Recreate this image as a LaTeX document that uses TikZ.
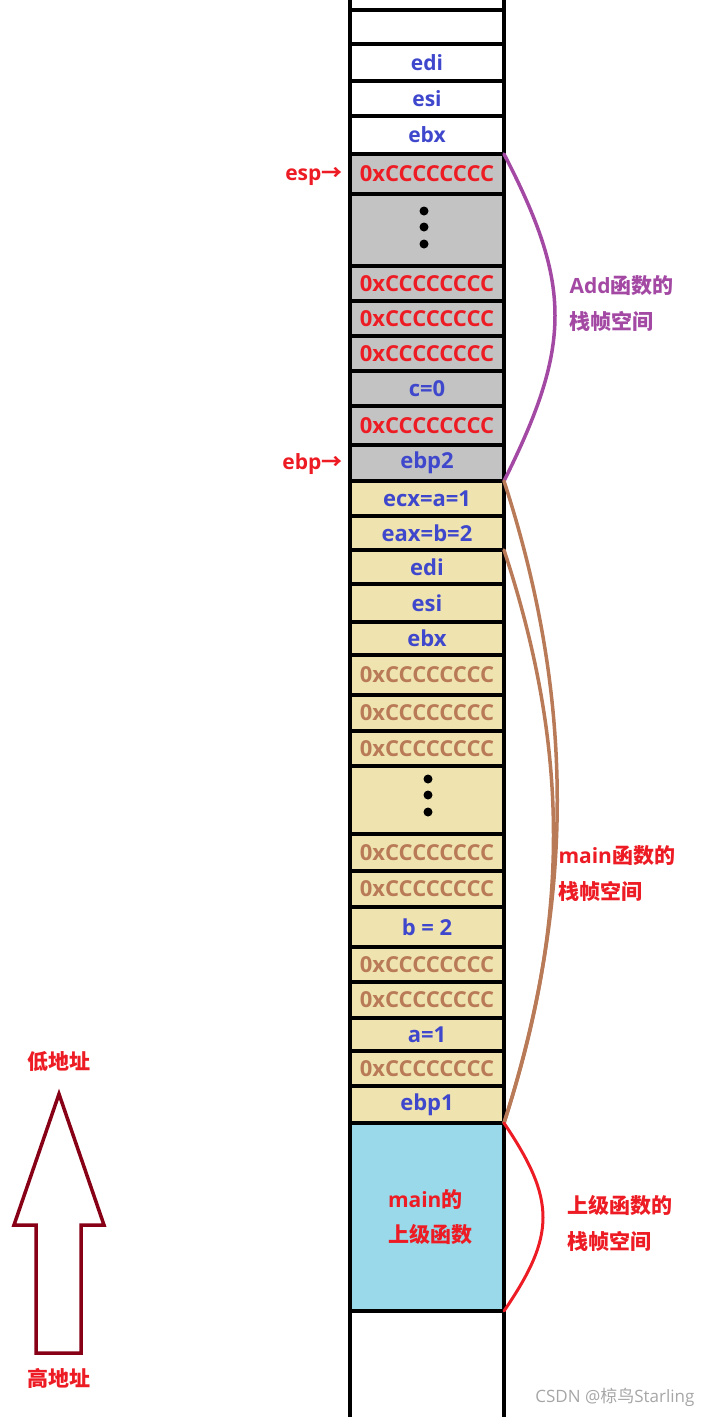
\documentclass[tikz,border=0pt]{standalone}
\usepackage{fontspec}
\setmainfont{Open Sans}
\newfontfamily\cjk{Noto Sans CJK SC}
\usetikzlibrary{positioning}

\definecolor{cellgray}{HTML}{C3C3C3}
\definecolor{celltan}{HTML}{EFE4B0}
\definecolor{cellblue}{HTML}{99D9EA}
\definecolor{txtblue}{HTML}{3F48CC}
\definecolor{txtred}{HTML}{ED1C24}
\definecolor{txtbrown}{HTML}{B97A57}
\definecolor{txtpurple}{HTML}{A349A4}
\definecolor{arrowred}{HTML}{880015}

\begin{document}
\begin{tikzpicture}[
            x=1pt, y=-1pt,
            font=\fontsize{21}{25}\selectfont\bfseries,
            cell/.style={rectangle, draw, line width=4pt, minimum width=154pt, inner sep=0pt, outer sep=0pt},
            white cell/.style={cell, fill=white, text=txtblue},
            gray cell/.style={cell, fill=cellgray, text=txtred, font=\fontsize{22}{25}\selectfont\bfseries},
            tan cell/.style={cell, fill=celltan, text=txtbrown, font=\fontsize{22}{25}\selectfont\bfseries},
            frame/.style={line width=3.5pt, line cap=round},
            side label/.style={anchor=west, align=left, font=\fontsize{21}{36}\selectfont\bfseries}
        ]
            \useasboundingbox (0,0) rectangle (705,1417);

            % Stack cells, top (low address) to bottom
            \node[white cell, minimum height=34pt] (r1) at (427,27) {};
            \node[white cell, minimum height=37pt, below=0pt of r1] (r2) {edi};
            \node[white cell, minimum height=35pt, below=0pt of r2] (r3) {esi};
            \node[white cell, minimum height=38pt, below=0pt of r3] (r4) {ebx};
            \node[gray cell, minimum height=40pt, below=0pt of r4] (r5) {0xCCCCCCCC};
            \node[gray cell, minimum height=72pt, below=0pt of r5] (r6) {};
            \node[gray cell, minimum height=35pt, below=0pt of r6] (r7) {0xCCCCCCCC};
            \node[gray cell, minimum height=35pt, below=0pt of r7] (r8) {0xCCCCCCCC};
            \node[gray cell, minimum height=35pt, below=0pt of r8] (r9) {0xCCCCCCCC};
            \node[gray cell, text=txtblue, minimum height=35pt, below=0pt of r9] (r10) {c=0};
            \node[gray cell, minimum height=39pt, below=0pt of r10] (r11) {0xCCCCCCCC};
            \node[gray cell, text=txtblue, minimum height=36pt, below=0pt of r11] (r12) {ebp2};
            \node[tan cell, text=txtblue, minimum height=35pt, below=0pt of r12] (r13) {ecx=a=1};
            \node[tan cell, text=txtblue, minimum height=34pt, below=0pt of r13] (r14) {eax=b=2};
            \node[tan cell, text=txtblue, minimum height=34pt, below=0pt of r14] (r15) {edi};
            \node[tan cell, text=txtblue, minimum height=38pt, below=0pt of r15] (r16) {esi};
            \node[tan cell, text=txtblue, minimum height=33pt, below=0pt of r16] (r17) {ebx};
            \node[tan cell, minimum height=40pt, below=0pt of r17] (r18) {0xCCCCCCCC};
            \node[tan cell, minimum height=36pt, below=0pt of r18] (r19) {0xCCCCCCCC};
            \node[tan cell, minimum height=35pt, below=0pt of r19] (r20) {0xCCCCCCCC};
            \node[tan cell, minimum height=68pt, below=0pt of r20] (r21) {};
            \node[tan cell, minimum height=37pt, below=0pt of r21] (r22) {0xCCCCCCCC};
            \node[tan cell, minimum height=36pt, below=0pt of r22] (r23) {0xCCCCCCCC};
            \node[tan cell, text=txtblue, minimum height=40pt, below=0pt of r23] (r24) {b = 2};
            \node[tan cell, minimum height=35pt, below=0pt of r24] (r25) {0xCCCCCCCC};
            \node[tan cell, minimum height=36pt, below=0pt of r25] (r26) {0xCCCCCCCC};
            \node[tan cell, text=txtblue, minimum height=33pt, below=0pt of r26] (r27) {a=1};
            \node[tan cell, minimum height=35pt, below=0pt of r27] (r28) {0xCCCCCCCC};
            \node[tan cell, text=txtblue, minimum height=37pt, below=0pt of r28] (r29) {ebp1};
            \node[cell, fill=cellblue, text=txtred, align=left, font=\fontsize{21}{35}\selectfont\bfseries,
                  minimum height=188pt, below=0pt of r29] (r30) {\hspace*{6pt}main{\cjk 的}\\\hspace*{6pt}{\cjk 上级函数}};

            % Column walls
            \draw[line width=4pt] (r1.west |- 0,0) -- (r1.west |- 0,1417);
            \draw[line width=4pt] (r1.east |- 0,0) -- (r1.east |- 0,1417);

            % Dots
            \fill (r6.center) ++(-3,-19) circle (4.5pt);
            \fill (r6.center) ++(-3,-3) circle (4.5pt);
            \fill (r6.center) ++(-3,14) circle (4.5pt);
            \fill (r21.center) ++(1,-21) circle (4.5pt);
            \fill (r21.center) ++(1,-5) circle (4.5pt);
            \fill (r21.center) ++(1,12) circle (4.5pt);

            % Pointers
            \node[anchor=east, text=txtred] (esp) at (346,176) {esp{\cjk →}};
            \node[anchor=east, text=txtred] (ebp) at (346,464) {ebp{\cjk →}};

            % Frame braces
            \draw[frame, txtpurple] (r5.north east) .. controls (572,285) and (572,345) .. (r12.south east);
            \draw[frame, txtbrown] (r13.north east) .. controls (575,700) and (575,900) .. (r29.south east);
            \draw[frame, txtbrown] (r15.north east) .. controls (570,750) and (570,920) .. (r29.south east);
            \draw[frame, txtred, line width=3pt] (r30.north east) .. controls (556,1200) and (556,1235) .. (r30.south east);

            % Frame labels
            \node[side label, text=txtpurple] (addlbl) at (566,304) {Add{\cjk 函数的}\\{\cjk 栈帧空间}};
            \node[side label, text=txtred] (mainlbl) at (555,874) {main{\cjk 函数的}\\{\cjk 栈帧空间}};
            \node[side label, text=txtred] (uplbl) at (564,1223) {{\cjk 上级函数的}\\{\cjk 栈帧空间}};

            % Address direction
            \draw[arrowred, line width=3.5pt, line join=miter]
                (59,1094) -- (104,1225) -- (81,1225) -- (81,1353) -- (36,1353) -- (36,1225) -- (14,1225) -- cycle;
            \node[text=txtred] (low) at (59,1062) {\cjk 低地址};
            \node[text=txtred] (high) at (59,1378) {\cjk 高地址};

            % Watermark
            \node[anchor=east, text=gray!70, font=\fontsize{17}{17}\selectfont] (mark) at (698,1397) {CSDN @{\cjk 椋鸟}Starling};
        \end{tikzpicture}
\end{document}
